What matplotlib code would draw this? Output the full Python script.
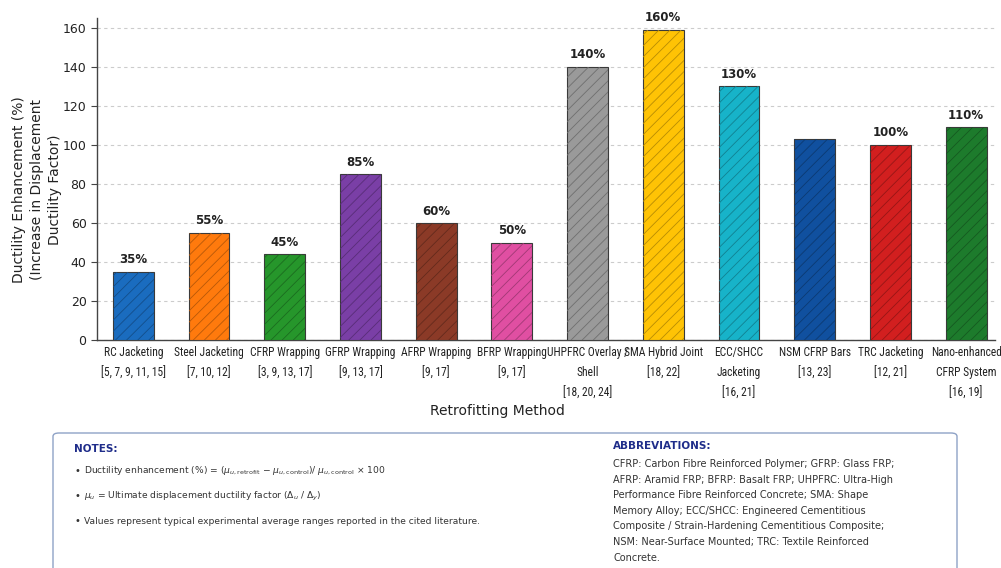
import matplotlib
matplotlib.use("Agg")
import matplotlib.pyplot as plt
from matplotlib.patches import FancyBboxPatch
import matplotlib.colors as mcolors

# Datos del gráfico
metodos = ["RC Jacketing\n[5, 7, 9, 11, 15]",
           "Steel Jacketing\n[7, 10, 12]",
           "CFRP Wrapping\n[3, 9, 13, 17]",
           "GFRP Wrapping\n[9, 13, 17]",
           "AFRP Wrapping\n[9, 17]",
           "BFRP Wrapping\n[9, 17]",
           "UHPFRC Overlay /\nShell\n[18, 20, 24]",
           "SMA Hybrid Joint\n[18, 22]",
           "ECC/SHCC\nJacketing\n[16, 21]",
           "NSM CFRP Bars\n[13, 23]",
           "TRC Jacketing\n[12, 21]",
           "Nano-enhanced\nCFRP System\n[16, 19]"]
valores = [35, 55, 44, 85, 60, 50, 140, 159, 130, 103, 100, 109]
etiquetas = ["35%", "55%", "45%", "85%", "60%", "50%", "140%", "160%", "130%", None, "100%", "110%"]
colores = ["#1a6cbf", "#ff7a0d", "#26962b", "#7a3fa6", "#8b3a27", "#e04fa2",
           "#9a9a9a", "#ffc305", "#17b3c9", "#10509f", "#d21f1f", "#1d7b2c"]
yticks = [0, 20, 40, 60, 80, 100, 120, 140, 160]

notas = [r"Ductility enhancement (%) = ($\mu_{u,\mathrm{retrofit}}$ $-$ $\mu_{u,\mathrm{control}}$)/ $\mu_{u,\mathrm{control}}$ $\times$ 100",
         r"$\mu_u$ = Ultimate displacement ductility factor ($\Delta_u$ / $\Delta_y$)",
         "Values represent typical experimental average ranges reported in the cited literature."]
abreviaturas = ["CFRP: Carbon Fibre Reinforced Polymer; GFRP: Glass FRP;",
                "AFRP: Aramid FRP; BFRP: Basalt FRP; UHPFRC: Ultra-High",
                "Performance Fibre Reinforced Concrete; SMA: Shape",
                "Memory Alloy; ECC/SHCC: Engineered Cementitious",
                "Composite / Strain-Hardening Cementitious Composite;",
                "NSM: Near-Surface Mounted; TRC: Textile Reinforced",
                "Concrete."]

plt.rcParams['mathtext.fontset'] = 'dejavusans'
plt.rcParams['hatch.linewidth'] = 0.6
fuente_estrecha = ['Roboto Condensed', 'Archivo Narrow', 'Asap Condensed', 'DejaVu Sans']

fig = plt.figure(figsize=(10.01, 5.68), dpi=100)
ax = fig.add_axes([0.0969, 0.401, 0.897, 0.567])

x = list(range(len(valores)))
ax.bar(x, valores, width=0.54, color=colores, edgecolor="#3a3a3a", linewidth=0.8, zorder=3)
# rayado con un tono más oscuro de cada color
for xi, v, c in zip(x, valores, colores):
    oscuro = tuple(0.72 * k for k in mcolors.to_rgb(c))
    ax.bar(xi, v, width=0.54, color="none", edgecolor=oscuro, hatch="///", linewidth=0, zorder=4)

for xi, v, t in zip(x, valores, etiquetas):
    if t:
        ax.annotate(t, (xi, v), xytext=(0, 4), textcoords="offset points",
                    ha="center", va="bottom", fontsize=8.5, fontweight="bold", color="#222222")

ax.set_xlim(-0.48, 11.38)
ax.set_ylim(0, 165)
ax.set_yticks(yticks)
ax.tick_params(axis='y', labelsize=9, length=4, color="#444444", labelcolor="#222222")
ax.set_xticks(x)
ax.set_xticklabels(metodos, fontsize=8.3, family=fuente_estrecha,
                   color="#222222", linespacing=1.75)
ax.tick_params(axis='x', length=0, pad=4)
ax.grid(axis='y', linestyle=(0, (3, 3)), color="#cccccc", linewidth=0.8, zorder=0)
for s in ["top", "right"]:
    ax.spines[s].set_visible(False)
for s in ["left", "bottom"]:
    ax.spines[s].set_color("#444444")
    ax.spines[s].set_linewidth(1.0)

fig.text(0.037, 1 - 190 / 568, "Ductility Enhancement (%)\n(Increase in Displacement\nDuctility Factor)",
         rotation=90, ha="center", va="center", multialignment="center", fontsize=10, color="#222222",
         linespacing=1.4)
fig.text(0.497, 1 - 411 / 568, "Retrofitting Method", ha="center", va="center", fontsize=10, color="#222222")

# Cuadro de notas
caja = FancyBboxPatch((53 / 1001, -0.05), 904 / 1001, 0.05 + (568 - 433) / 568,
                      boxstyle="round,pad=0,rounding_size=0.006", transform=fig.transFigure,
                      facecolor="white", edgecolor="#8ea2c6", linewidth=1.0)
fig.patches.append(caja)

fig.text(74 / 1001, 1 - 449 / 568, "NOTES:", fontsize=7.5, fontweight="bold", color="#1f2d8a",
         ha="left", va="center")
for i, n in enumerate(notas):
    yy = 1 - (471 + i * 25) / 568
    fig.text(74 / 1001, yy, "•", fontsize=7, color="#333333", ha="left", va="center")
    fig.text(84 / 1001, yy, n, fontsize=6.6, color="#333333", ha="left", va="center")

fig.text(613 / 1001, 1 - 446 / 568, "ABBREVIATIONS:", fontsize=7.5, fontweight="bold", color="#1f2d8a",
         ha="left", va="center")
for i, a in enumerate(abreviaturas):
    fig.text(613 / 1001, 1 - (464 + i * 15.6) / 568, a, fontsize=7.0, color="#333333",
             ha="left", va="center")

fig.savefig("out.png", dpi=100)
